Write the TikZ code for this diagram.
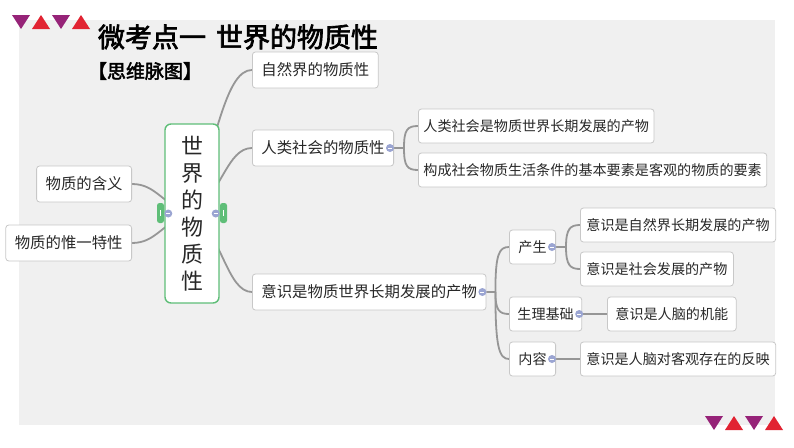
\documentclass[tikz,border=0pt]{standalone}
\usepackage{fontspec}
\setmainfont{Noto Sans CJK SC}
\newfontfamily\titlefont{Noto Sans CJK SC}[FakeBold=2.5]
\usepackage{tikz}

\definecolor{panelgray}{RGB}{240,240,240}
\definecolor{linkgray}{RGB}{150,150,150}
\definecolor{boxline}{RGB}{200,200,200}
\definecolor{rootgreen}{RGB}{95,190,120}
\definecolor{knobblue}{RGB}{155,165,210}
\definecolor{plum}{RGB}{150,35,120}
\definecolor{crimson}{RGB}{225,35,50}
\definecolor{inkgray}{RGB}{40,40,40}

\pgfdeclarelayer{bg}
\pgfdeclarelayer{lines}
\pgfsetlayers{bg,lines,main}

\begin{document}
\begin{tikzpicture}[x=1pt, y=-1pt,
    topic/.style={draw=boxline, fill=white, rounded corners=3pt, line width=0.8pt,
      font=\fontsize{15.4}{18}\selectfont, text=inkgray, inner xsep=9pt,
      inner ysep=0pt, minimum height=36pt, anchor=west},
    leaf/.style={topic, font=\fontsize{14.1}{17}\selectfont, inner xsep=5pt, minimum height=34pt},
    rootbox/.style={draw=rootgreen, line width=1.4pt, fill=white, rounded corners=6pt,
      minimum width=54pt, minimum height=179pt, align=center, text=inkgray,
      font=\fontsize{22}{27}\selectfont},
    link/.style={draw=linkgray, line width=1.8pt},
    knob/.style={circle, fill=knobblue, inner sep=0pt, minimum size=8pt,
      path picture={\draw[white, line width=0.9pt]
        ([xshift=-2pt]path picture bounding box.center) -- ([xshift=2pt]path picture bounding box.center);}}]
    \useasboundingbox (0,0) rectangle (794,447);

    % panel
    \begin{pgfonlayer}{bg}
    \fill[panelgray] (19,20) rectangle (775,425);
    \end{pgfonlayer}

    % corner marks
    \foreach \x in {12,52} {\fill[plum] (\x,15) -- ++(18,0) -- ++(-9,14) -- cycle;}
    \foreach \x in {32,72} {\fill[crimson] (\x,29) -- ++(18,0) -- ++(-9,-14) -- cycle;}
    \foreach \x in {705,745} {\fill[plum] (\x,416) -- ++(18,0) -- ++(-9,14) -- cycle;}
    \foreach \x in {725,765} {\fill[crimson] (\x,430) -- ++(18,0) -- ++(-9,-14) -- cycle;}

    % headings
    \node[font=\titlefont\fontsize{27}{30}\selectfont, text=black] (title) at (238,37) {微考点一\hspace{10pt}世界的物质性};
    \node[font=\titlefont\fontsize{19}{22}\selectfont, text=black] (map) at (145,71) {【思维脉图】};

    % root
    \node[rootbox] (root) at (192,213.5) {世\\界\\的\\物\\质\\性};
    \fill[rootgreen, rounded corners=2.5pt] (157,203) rectangle (164,223);
    \fill[rootgreen, rounded corners=2.5pt] (220,203) rectangle (227,223);
    \draw[white, line width=0.8pt] (160.5,210) -- (160.5,216) (223.5,210) -- (223.5,216);

    % left side
    \node[topic, anchor=east] (def) at (132,184) {物质的含义};
    \node[topic, anchor=east] (uni) at (132,243) {物质的惟一特性};

    % right side
    \node[topic] (nat) at (252,70) {自然界的物质性};
    \node[topic] (hum) at (252,148) {人类社会的物质性};
    \node[topic] (con) at (252,292) {意识是物质世界长期发展的产物};

    \node[leaf] (hum1) at (418,126) {人类社会是物质世界长期发展的产物};
    \node[leaf] (hum2) at (418,170) {构成社会物质生活条件的基本要素是客观的物质的要素};

    \node[leaf, inner xsep=9pt] (gen) at (509,247) {产生};
    \node[leaf, inner xsep=8pt] (phys) at (509,314) {生理基础};
    \node[leaf, inner xsep=9pt] (cont) at (509,359) {内容};

    \node[leaf, inner xsep=6pt] (gen1) at (580,225) {意识是自然界长期发展的产物};
    \node[leaf, inner xsep=6pt] (gen2) at (580,269) {意识是社会发展的产物};
    \node[leaf, inner xsep=8pt] (phys1) at (607,314) {意识是人脑的机能};
    \node[leaf, inner xsep=6pt] (cont1) at (580,359) {意识是人脑对客观存在的反映};

    % connectors
    \begin{pgfonlayer}{lines}
    \draw[link] (root.center) .. controls +(25,-80) and +(-25,0) .. (nat.west);
    \draw[link] (root.center) .. controls +(30,-20) and +(-25,0) .. (hum.west);
    \draw[link] (root.center) .. controls +(30,20) and +(-25,0) .. (con.west);
    \draw[link] (root.center) .. controls +(-30,-8) and +(25,0) .. (def.east);
    \draw[link] (root.center) .. controls +(-30,8) and +(25,0) .. (uni.east);

    \draw[link] (hum.east) -- ++(10,0) coordinate (hs);
    \draw[link] (hs) .. controls +(0,-18) and +(-11,0) .. (hum1.west);
    \draw[link] (hs) .. controls +(0,18) and +(-11,0) .. (hum2.west);

    \draw[link] (con.east) -- ++(9,0) coordinate (cs);
    \draw[link] (cs) .. controls +(0,-38) and +(-10,0) .. (gen.west);
    \draw[link] (cs) .. controls +(0,18) and +(-10,0) .. (phys.west);
    \draw[link] (cs) .. controls +(0,55) and +(-10,0) .. (cont.west);

    \draw[link] (gen.east) -- ++(10,0) coordinate (gs);
    \draw[link] (gs) .. controls +(0,-18) and +(-10,0) .. (gen1.west);
    \draw[link] (gs) .. controls +(0,18) and +(-10,0) .. (gen2.west);

    \draw[link] (phys.east) -- (phys1.west);
    \draw[link] (cont.east) -- (cont1.west);
    \end{pgfonlayer}

    % collapse knobs
    \node[knob] (k1) at ([xshift=4pt]root.west) {};
    \node[knob] (k2) at ([xshift=-4pt]root.east) {};
    \node[knob] (k3) at ([xshift=-4pt]hum.east) {};
    \node[knob] (k4) at ([xshift=-4pt]con.east) {};
    \node[knob] (k5) at ([xshift=-4pt]gen.east) {};
    \node[knob] (k6) at ([xshift=-3pt]phys.east) {};
    \node[knob] (k7) at ([xshift=-4pt]cont.east) {};
\end{tikzpicture}
\end{document}
